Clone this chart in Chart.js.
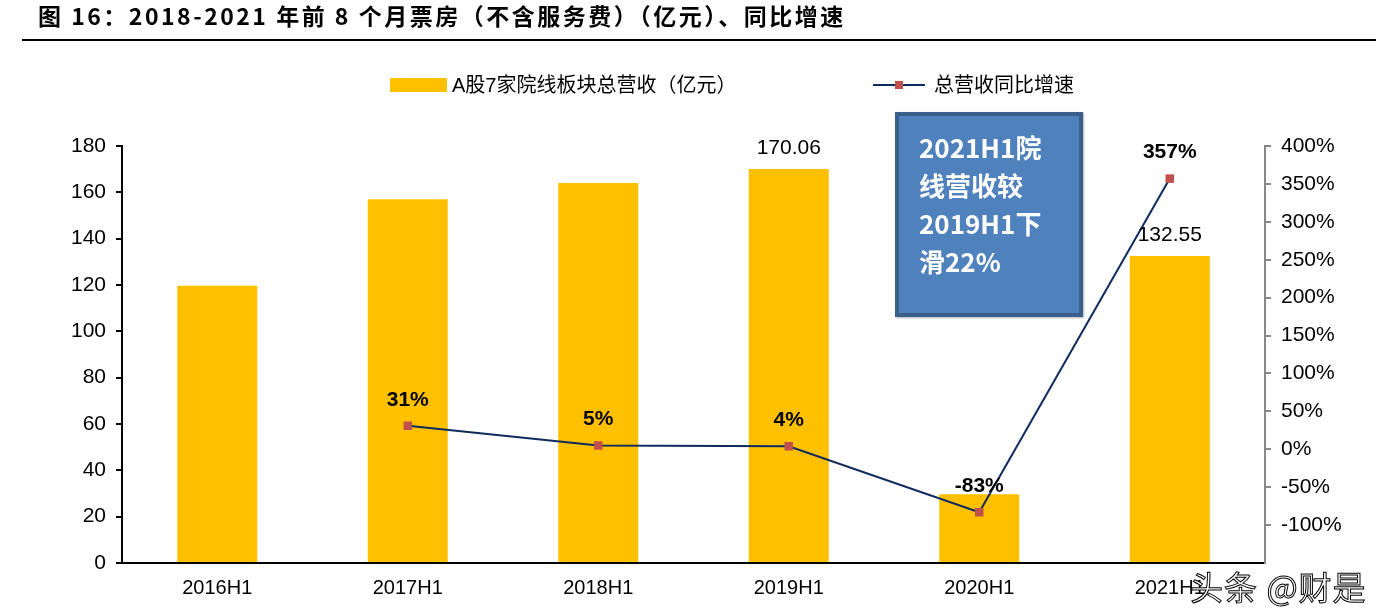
<!DOCTYPE html>
<html><head><meta charset="utf-8">
<script src="https://cdn.jsdelivr.net/npm/chart.js@4/dist/chart.umd.min.js"></script>
<style>
html,body{margin:0;padding:0;background:#fff;}
#wrap{position:relative;width:1392px;height:608px;overflow:hidden;font-family:"Liberation Sans",Arial,sans-serif;}
#title{position:absolute;left:38px;top:0px;font-family:"Noto Sans CJK SC",sans-serif;font-weight:bold;font-size:23px;line-height:30px;color:#000;letter-spacing:2.5px;}
#rule{position:absolute;left:22px;top:39px;width:1354px;height:2px;background:#000;}
#cv{position:absolute;left:0;top:0;}
.leg{position:absolute;top:72px;font-size:20px;line-height:26px;color:#000;font-family:"Liberation Sans","Noto Sans CJK SC",sans-serif;}
#box{position:absolute;left:895px;top:112px;width:180px;height:197px;background:#4F81BD;border:4px solid #3A5F8B;box-shadow:1px 1px 2px rgba(0,0,0,0.3);}
#box div{position:absolute;left:20px;top:12px;color:#fff;font-weight:bold;font-size:26px;line-height:38px;font-family:"Noto Sans CJK SC",sans-serif;}
#wm{position:absolute;left:1190px;top:562px;font-size:33px;color:#fff;font-family:"Noto Sans CJK SC",sans-serif;-webkit-text-stroke:1px #000;letter-spacing:1px;}
</style></head>
<body><div id="wrap">
<canvas id="cv" width="1392" height="608"></canvas>
<div id="title">图 16：2018-2021 年前 8 个月票房（不含服务费）（亿元）、同比增速</div>
<div id="rule"></div>
<div class="leg" style="left:390px;"><span style="display:inline-block;width:57px;height:14px;background:#FFC000;vertical-align:0px;margin-right:5px;border-radius:1px;"></span>A股7家院线板块总营收（亿元）</div>
<div class="leg" style="left:873px;"><span style="display:inline-block;position:relative;width:52px;height:14px;vertical-align:0px;margin-right:9px;"><span style="position:absolute;left:0;top:6px;width:52px;height:2px;background:#0F2A5E;"></span><span style="position:absolute;left:22px;top:3px;width:8px;height:8px;background:#C0504D;"></span></span>总营收同比增速</div>
<div id="box"><div>2021H1院<br>线营收较<br>2019H1下<br>滑22%</div></div>
<div id="wm">头条 @财是</div>
</div>
<script>
const categories = ["2016H1","2017H1","2018H1","2019H1","2020H1","2021H1"];
const revenue = [119.7, 157.0, 164.0, 170.06, 29.7, 132.55];
const revenueLabels = ["", "", "", "170.06", "", "132.55"];
const growth = [null, 31, 5, 4, -83, 357];
const growthLabels = ["", "31%", "5%", "4%", "-83%", "357%"];
const leftTicks = [0,20,40,60,80,100,120,140,160,180];
const rightTicks = [-100,-50,0,50,100,150,200,250,300,350,400];

const labelPlugin = {
  id: 'labels',
  afterDatasetsDraw(chart) {
    const ctx = chart.ctx;
    ctx.save();
    ctx.textAlign = 'center';
    ctx.textBaseline = 'middle';
    ctx.fillStyle = '#000';
    const barMeta = chart.getDatasetMeta(0);
    ctx.font = '21px "Liberation Sans", Arial, sans-serif';
    barMeta.data.forEach((el, i) => {
      if (revenueLabels[i]) ctx.fillText(revenueLabels[i], el.x, el.y - 21);
    });
    const lineMeta = chart.getDatasetMeta(1);
    ctx.font = 'bold 21px "Liberation Sans", Arial, sans-serif';
    lineMeta.data.forEach((el, i) => {
      if (growthLabels[i]) ctx.fillText(growthLabels[i], el.x, el.y - 26);
    });
    ctx.restore();
  }
};

new Chart(document.getElementById('cv'), {
  data: {
    labels: categories,
    datasets: [
      {type:'bar', label:'A股7家院线板块总营收（亿元）', data: revenue, backgroundColor:'#FFC000', yAxisID:'y', barPercentage:0.42, categoryPercentage:1, order:2},
      {type:'line', label:'总营收同比增速', data: growth, borderColor:'#0F2A5E', borderWidth:2, pointStyle:'rect', pointRadius:6, pointBackgroundColor:'#C0504D', pointBorderColor:'#C0504D', pointBorderWidth:0, yAxisID:'y2', tension:0, order:1}
    ]
  },
  options: {
    responsive:false, animation:false,
    layout:{padding:{top:146,left:0,right:0,bottom:0}},
    plugins:{legend:{display:false}, tooltip:{enabled:false}},
    scales:{
      x:{
        afterFit(s){ s.height = 45; },
        grid:{display:false, drawTicks:false},
        border:{display:true, color:'#000', width:2},
        ticks:{color:'#000', font:{size:20, family:'"Liberation Sans", Arial'}, padding:13, maxRotation:0}
      },
      y:{
        position:'left', min:0, max:180,
        afterFit(s){ s.width = 122; },
        afterBuildTicks(s){ s.ticks = leftTicks.map(v=>({value:v})); },
        grid:{drawOnChartArea:false, drawTicks:true, tickLength:6, color:'#000', lineWidth:2},
        border:{display:true, color:'#000', width:2},
        ticks:{color:'#000', font:{size:21, family:'"Liberation Sans", Arial'}, padding:10}
      },
      y2:{
        position:'right', min:-150, max:400,
        afterFit(s){ s.width = 127; },
        afterBuildTicks(s){ s.ticks = rightTicks.map(v=>({value:v})); },
        grid:{drawOnChartArea:false, drawTicks:true, tickLength:6, color:'#888', lineWidth:2},
        border:{display:true, color:'#888', width:2},
        ticks:{color:'#000', font:{size:21, family:'"Liberation Sans", Arial'}, padding:10, callback:(v)=> v + '%'}
      }
    }
  },
  plugins:[labelPlugin]
});
</script>
</body></html>
